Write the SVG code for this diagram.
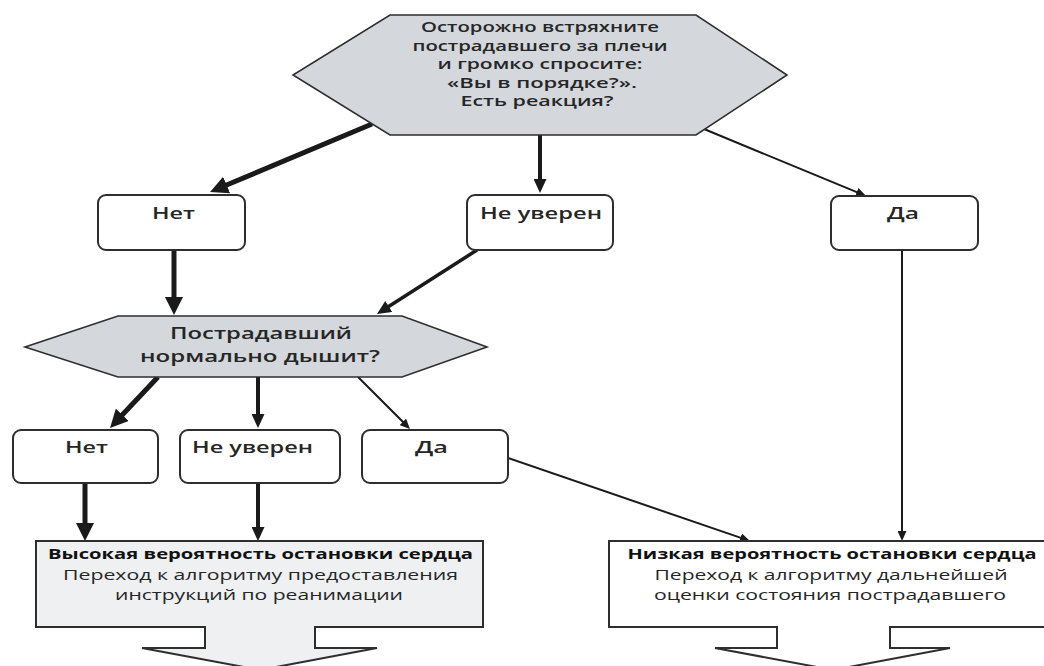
<svg xmlns="http://www.w3.org/2000/svg" width="1044" height="666" viewBox="0 0 1044 666">
<defs>
<style>
.hex{fill:#d4d7dc;stroke:#2e2e2e;stroke-width:1.6}
.box{fill:#ffffff;stroke:#2e2e2e;stroke-width:2}
.t{font-family:"Open Sans","Noto Sans","DejaVu Sans",sans-serif;fill:#262626;text-anchor:middle}
.lab{font-size:16px;font-weight:600}
.hx{font-size:14px;font-weight:600}
.hx2{font-size:17px;font-weight:600}
.b{font-size:15px;font-weight:700;fill:#111}
.r{font-size:15px;font-weight:400}
.c{fill:none;stroke:#1a1a1a}
.thick{stroke-width:5}
.med{stroke-width:4}
.thin{stroke-width:2}
</style>
<marker id="hThick" markerUnits="userSpaceOnUse" markerWidth="20" markerHeight="18" refX="2" refY="9" orient="auto" viewBox="0 0 20 18"><path d="M0,0 L18,9 L0,18 z" fill="#1a1a1a"/></marker>
<marker id="hMed" markerUnits="userSpaceOnUse" markerWidth="14" markerHeight="13" refX="2" refY="6.5" orient="auto" viewBox="0 0 14 13"><path d="M0,0 L14,6.5 L0,13 z" fill="#1a1a1a"/></marker>
<marker id="hThin" markerUnits="userSpaceOnUse" markerWidth="10" markerHeight="9" refX="2" refY="4.5" orient="auto" viewBox="0 0 10 9"><path d="M0,0 L10,4.5 L0,9 z" fill="#1a1a1a"/></marker>
</defs>
<rect width="1044" height="666" fill="#ffffff"/>

<g id="connectors">
<line class="c thick" x1="372" y1="124" x2="224.8" y2="185.8" marker-end="url(#hThick)"/>
<line class="c med" x1="540" y1="135" x2="540" y2="181" marker-end="url(#hMed)"/>
<line class="c thin" x1="704" y1="129" x2="858.6" y2="192.9" marker-end="url(#hThin)"/>
<line class="c thick" x1="174" y1="250" x2="174" y2="299" marker-end="url(#hThick)"/>
<line class="c" stroke-width="3.5" x1="477" y1="250" x2="387.1" y2="307.5" marker-end="url(#hMed)"/>
<line class="c thick" x1="158" y1="377" x2="121" y2="416.3" marker-end="url(#hThick)"/>
<line class="c med" x1="258" y1="377" x2="258" y2="416" marker-end="url(#hMed)"/>
<line class="c thin" x1="358" y1="377" x2="404.3" y2="423.3" marker-end="url(#hThin)"/>
<line class="c thick" x1="85" y1="483" x2="85" y2="525" marker-end="url(#hThick)"/>
<line class="c med" x1="258" y1="483" x2="258" y2="529" marker-end="url(#hMed)"/>
<line class="c thin" x1="508" y1="458" x2="742.4" y2="538.4" marker-end="url(#hThin)"/>
<line class="c thin" x1="902" y1="250" x2="902" y2="533" marker-end="url(#hThin)"/>
</g>

<g id="q1">
<polygon class="hex" points="390,15 696,15 787,75 696,135 390,135 293,75"/>
<text class="t hx" x="540" y="32" textLength="238" lengthAdjust="spacingAndGlyphs">Осторожно встряхните</text>
<text class="t hx" x="540" y="50.5" textLength="255" lengthAdjust="spacingAndGlyphs">пострадавшего за плечи</text>
<text class="t hx" x="540" y="69" textLength="205" lengthAdjust="spacingAndGlyphs">и громко спросите:</text>
<text class="t hx" x="542" y="87.5" textLength="190" lengthAdjust="spacingAndGlyphs">«Вы в порядке?».</text>
<text class="t hx" x="537" y="106" textLength="153" lengthAdjust="spacingAndGlyphs">Есть реакция?</text>
</g>

<g id="no1">
<rect class="box" x="98" y="195" width="147" height="55" rx="8"/>
<text class="t lab" x="173.5" y="219" textLength="43" lengthAdjust="spacingAndGlyphs">Нет</text>
</g>
<g id="unsure1">
<rect class="box" x="467" y="195" width="146" height="55" rx="8"/>
<text class="t lab" x="541" y="219" textLength="122" lengthAdjust="spacingAndGlyphs">Не уверен</text>
</g>
<g id="yes1">
<rect class="box" x="831" y="196" width="147" height="54" rx="8"/>
<text class="t lab" x="903" y="219" textLength="32" lengthAdjust="spacingAndGlyphs">Да</text>
</g>

<g id="q2">
<polygon class="hex" points="118,316 402,316 487,347 402,377 118,377 25,347"/>
<text class="t hx2" x="261" y="339" textLength="182" lengthAdjust="spacingAndGlyphs">Пострадавший</text>
<text class="t hx2" x="260" y="362" textLength="240" lengthAdjust="spacingAndGlyphs">нормально дышит?</text>
</g>

<g id="no2">
<rect class="box" x="13" y="430" width="145" height="53" rx="8"/>
<text class="t lab" x="86.5" y="453" textLength="43" lengthAdjust="spacingAndGlyphs">Нет</text>
</g>
<g id="unsure2">
<rect class="box" x="180" y="430" width="160" height="53" rx="8"/>
<text class="t lab" x="252.5" y="453" textLength="121" lengthAdjust="spacingAndGlyphs">Не уверен</text>
</g>
<g id="yes2">
<rect class="box" x="362" y="430" width="146" height="53" rx="8"/>
<text class="t lab" x="431.5" y="453" textLength="33" lengthAdjust="spacingAndGlyphs">Да</text>
</g>

<g id="high">
<path d="M36,541 H483 V627 H315 V648 H377 L260,670 L142,648 H205 V627 H36 Z" fill="#eef0f2" stroke="#2e2e2e" stroke-width="2"/>
<text class="t b" x="260.5" y="559" textLength="425" lengthAdjust="spacingAndGlyphs">Высокая вероятность остановки сердца</text>
<text class="t r" x="260.5" y="579.5" textLength="395" lengthAdjust="spacingAndGlyphs">Переход к алгоритму предоставления</text>
<text class="t r" x="259" y="600" textLength="288" lengthAdjust="spacingAndGlyphs">инструкций по реанимации</text>
</g>

<g id="low">
<path d="M1050,541 H609 V627 H777 V648 H715 L833,670 L950,648 H890 V627 H1050" fill="#ffffff" stroke="#2e2e2e" stroke-width="2"/>
<text class="t b" x="832" y="559" textLength="409" lengthAdjust="spacingAndGlyphs">Низкая вероятность остановки сердца</text>
<text class="t r" x="831" y="579.5" textLength="353" lengthAdjust="spacingAndGlyphs">Переход к алгоритму дальнейшей</text>
<text class="t r" x="830" y="600" textLength="352" lengthAdjust="spacingAndGlyphs">оценки состояния пострадавшего</text>
</g>
</svg>
